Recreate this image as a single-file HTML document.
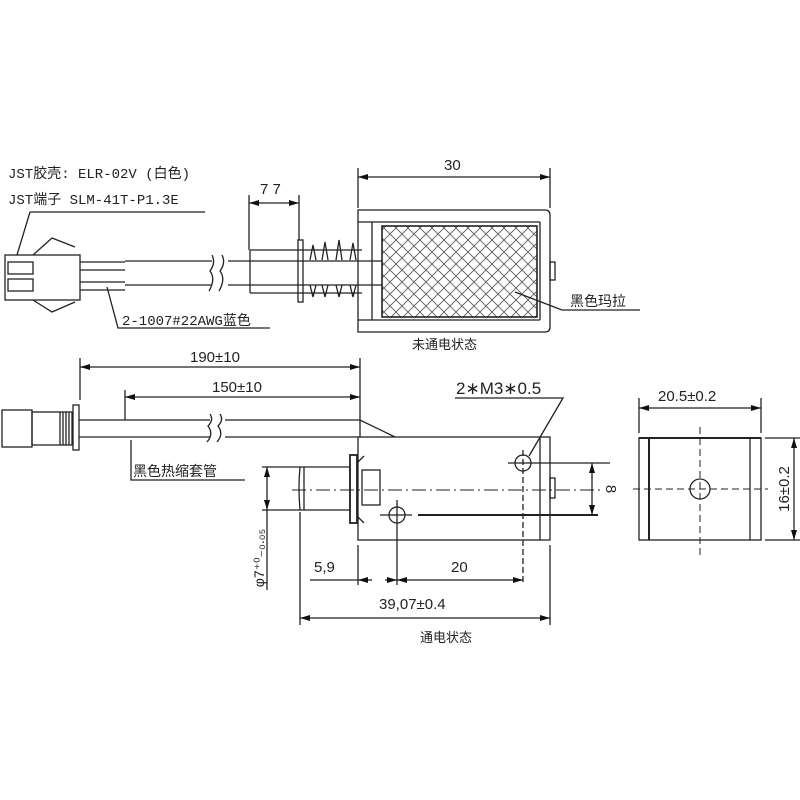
<!DOCTYPE html>
<html><head><meta charset="utf-8"><style>
html,body{margin:0;padding:0;background:#fff;}
svg{display:block;}
text{font-family:"Liberation Sans","Noto Sans CJK SC",sans-serif;fill:#222;}
.m{font-family:"Liberation Mono","Noto Sans CJK SC",monospace;}
</style></head><body>
<svg width="800" height="800" viewBox="0 0 800 800" xmlns="http://www.w3.org/2000/svg">
<defs>
<marker id="a" viewBox="0 0 10 6" refX="10" refY="3" markerWidth="10" markerHeight="6" orient="auto-start-reverse" markerUnits="userSpaceOnUse"><path d="M0,0 L10,3 L0,6 z" fill="#111"/></marker>
<pattern id="h" width="12" height="12" patternUnits="userSpaceOnUse"><path d="M0,0 L12,12 M12,0 L0,12" stroke="#555" stroke-width="0.8" fill="none"/></pattern>
</defs>
<g stroke="#222" stroke-width="1.3" fill="none">
<!-- TOP: labels -->
<line x1="30" y1="212" x2="205" y2="212"/>
<line x1="30" y1="212" x2="17" y2="255"/>
<!-- connector -->
<rect x="5" y="255" width="75" height="45" fill="#fff"/>
<rect x="8" y="262" width="25" height="12"/><rect x="8" y="279" width="25" height="12"/>
<path d="M33,255 L52,238 L75,247 M33,300 L52,312 L75,302"/>
<path d="M80,262 L125,262 M80,270 L125,270 M80,282 L125,282 M80,290 L125,290"/>
<!-- cable -->
<path d="M125,261 L212,261 M125,285 L212,285 M228,261 L382,261 M228,285 L382,285"/>
<path d="M212,255 q4,8 -2,16 q6,8 -1,20 M222,255 q4,8 -2,16 q6,8 -1,20"/>
<path d="M107,287 L118,328 L270,328"/>
<!-- spring / plunger -->
<path d="M250,250 L362,250 M250,293 L362,293 M250,250 L250,293"/>
<rect x="298" y="240" width="5" height="62"/>
<path d="M310,260 l3,-15 l3,15 M322,260 l3,-18 l3,18 M336,260 l3,-20 l3,20 M350,260 l3,-17 l3,17 M310,285 l3,12 l3,-12 M322,285 l3,12 l3,-12 M336,285 l3,12 l3,-12 M350,285 l3,12 l3,-12"/>
<!-- 7.7 dim -->
<line x1="249" y1="195" x2="249" y2="250"/><line x1="299" y1="195" x2="299" y2="240"/>
<line x1="249" y1="203" x2="299" y2="203" marker-start="url(#a)" marker-end="url(#a)"/>
<!-- coil frame -->
<line x1="358" y1="168" x2="358" y2="208"/><line x1="550" y1="168" x2="550" y2="208"/>
<line x1="358" y1="177" x2="550" y2="177" marker-start="url(#a)" marker-end="url(#a)"/>
<path d="M358,210 L545,210 Q550,210 550,215 L550,327 Q550,332 545,332 L358,332 Z"/>
<line x1="358" y1="222" x2="540" y2="222"/><line x1="358" y1="320" x2="540" y2="320"/>
<line x1="372" y1="222" x2="372" y2="320"/><line x1="540" y1="222" x2="540" y2="320"/>
<rect x="382" y="226" width="155" height="91" fill="url(#h)" stroke-width="1.6"/>
<rect x="550" y="262" width="5" height="18"/>
<path d="M515,292 L562,310 L640,310"/>
<!-- BOTTOM -->
<line x1="80" y1="358" x2="80" y2="400"/><line x1="360" y1="358" x2="360" y2="437"/>
<line x1="80" y1="367" x2="360" y2="367" marker-start="url(#a)" marker-end="url(#a)"/>
<line x1="125" y1="390" x2="125" y2="420"/>
<line x1="125" y1="397" x2="360" y2="397" marker-start="url(#a)" marker-end="url(#a)"/>
<!-- connector bottom -->
<rect x="2" y="410" width="30" height="37"/>
<rect x="32" y="412" width="40" height="33"/>
<path d="M60,412 v33 M63,412 v33 M66,412 v33 M69,412 v33"/>
<rect x="73" y="405" width="6" height="45"/>
<path d="M79,420 L125,420 M79,437 L125,437"/>
<path d="M125,420 L210,420 M125,437 L210,437 M225,420 L360,420 L395,437 M225,437 L358,437"/>
<path d="M210,414 q4,6 -2,12 q6,8 -1,16 M220,414 q4,6 -2,12 q6,8 -1,16"/>
<path d="M131,440 L131,480 L245,480"/>
<!-- body -->
<rect x="358" y="437" width="192" height="103"/>
<line x1="540" y1="437" x2="540" y2="540"/>
<rect x="550" y="478" width="5" height="20"/>
<!-- plunger -->
<path d="M300,467 L350,467 L350,510 L300,510 Q298,488 300,467 Z"/>
<line x1="304" y1="467" x2="304" y2="510"/>
<rect x="350" y="455" width="7" height="68" stroke-width="1.8"/>
<rect x="362" y="470" width="18" height="35"/>
<path d="M358,462 l6,-6 M358,517 l6,6"/>
<line x1="292" y1="490" x2="600" y2="490" stroke-dasharray="14,4,2,4" stroke-width="1"/>
<!-- holes -->
<circle cx="523" cy="463" r="8"/><circle cx="397" cy="515" r="8"/>
<line x1="508" y1="463" x2="610" y2="463"/>
<line x1="523" y1="450" x2="523" y2="585" stroke-dasharray="6,3"/>
<line x1="380" y1="515" x2="412" y2="515"/>
<line x1="418" y1="515" x2="598" y2="515" stroke-width="2"/>
<line x1="397" y1="500" x2="397" y2="585"/>
<path d="M529,456 L563,398 L455,398"/>
<line x1="592" y1="463" x2="592" y2="515" marker-start="url(#a)" marker-end="url(#a)"/>
<!-- dims bottom -->
<line x1="358" y1="545" x2="358" y2="585"/><line x1="550" y1="545" x2="550" y2="625"/>
<line x1="300" y1="512" x2="300" y2="625"/>
<line x1="310" y1="580" x2="358" y2="580"/>
<line x1="358" y1="580" x2="372" y2="580" marker-start="url(#a)"/>
<line x1="385" y1="580" x2="397" y2="580" marker-end="url(#a)"/>
<line x1="397" y1="580" x2="523" y2="580" marker-start="url(#a)" marker-end="url(#a)"/>
<line x1="300" y1="618" x2="550" y2="618" marker-start="url(#a)" marker-end="url(#a)"/>
<line x1="262" y1="467" x2="300" y2="467"/><line x1="262" y1="510" x2="300" y2="510"/>
<line x1="267" y1="467" x2="267" y2="510" marker-start="url(#a)" marker-end="url(#a)"/>
<line x1="267" y1="510" x2="267" y2="590"/>
<!-- side view -->
<line x1="639" y1="398" x2="639" y2="433"/><line x1="761" y1="398" x2="761" y2="433"/>
<line x1="639" y1="408" x2="761" y2="408" marker-start="url(#a)" marker-end="url(#a)"/>
<rect x="639" y="438" width="122" height="102"/>
<line x1="639" y1="438" x2="761" y2="438" stroke-width="2"/>
<line x1="649" y1="438" x2="649" y2="540" stroke-width="2"/>
<line x1="750" y1="438" x2="750" y2="540"/>
<circle cx="700" cy="489" r="10"/>
<line x1="633" y1="489" x2="768" y2="489" stroke-dasharray="7,4" stroke-width="1"/>
<line x1="700" y1="427" x2="700" y2="558" stroke-dasharray="7,4" stroke-width="1"/>
<line x1="765" y1="438" x2="800" y2="438"/><line x1="765" y1="540" x2="800" y2="540"/>
<line x1="794" y1="438" x2="794" y2="540" marker-start="url(#a)" marker-end="url(#a)"/>
</g>
<g class="m" font-size="14">
<text x="8" y="178" class="m">JST胶壳: ELR-02V (白色)</text>
<text x="8" y="204" class="m">JST端子  SLM-41T-P1.3E</text>
<text x="122" y="325" class="m">2-1007#22AWG蓝色</text>
</g>
<text x="260" y="194" font-size="15">7 7</text>
<text x="444" y="170" font-size="15">30</text>
<text x="570" y="306" font-size="14">黑色玛拉</text>
<text x="412" y="349" font-size="13">未通电状态</text>
<text x="190" y="362" font-size="15">190±10</text>
<text x="212" y="392" font-size="15">150±10</text>
<text x="456" y="394" font-size="17">2∗M3∗0.5</text>
<text x="133" y="476" font-size="14">黑色热缩套管</text>
<text x="314" y="572" font-size="15">5,9</text>
<text x="451" y="572" font-size="15">20</text>
<text x="379" y="609" font-size="15">39,07±0.4</text>
<text x="420" y="642" font-size="13">通电状态</text>
<text x="658" y="401" font-size="15">20.5±0.2</text>
<text x="0" y="0" font-size="15" transform="translate(606,489) rotate(90)" text-anchor="middle">8</text>
<text x="0" y="0" font-size="15" transform="translate(789,489) rotate(-90)" text-anchor="middle">16±0.2</text>
<text x="0" y="0" font-size="14" transform="translate(264,558) rotate(-90)" text-anchor="middle">φ7⁺⁰₋₀.₀₅</text>
</svg>
</body></html>
